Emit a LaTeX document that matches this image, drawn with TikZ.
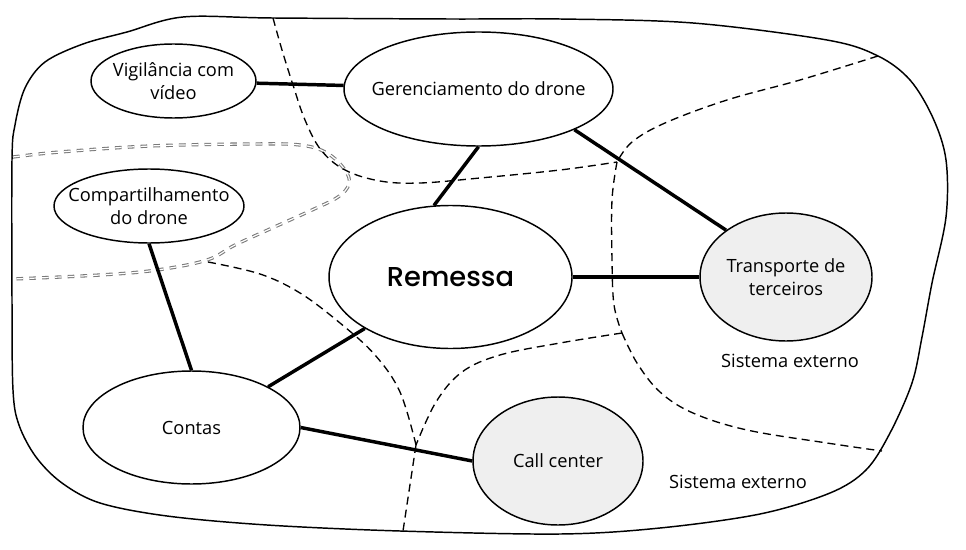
\documentclass[tikz,border=0pt]{standalone}
\usepackage{fontspec}
\setmainfont{Open Sans}
\newfontfamily\remfont{Poppins}[UprightFont=* Medium]
\usetikzlibrary{shapes.geometric}
\definecolor{extgray}{HTML}{EFEFEF}
\definecolor{dgray}{HTML}{7A7A7A}
\begin{document}
\begin{tikzpicture}[x=0.75pt,y=-0.75pt,
  sz/.style 2 args={minimum width=#1*0.75pt, minimum height=#2*0.75pt},
  ell/.style={ellipse, draw, line width=1.1pt, fill=white, inner sep=-40pt, align=center,
    font=\fontsize{13.7}{17.5}\selectfont},
  ext/.style={ell, fill=extgray},
  lbl/.style={inner sep=0pt, font=\fontsize{13.7}{17.5}\selectfont},
  conn/.style={line width=2.6pt},
  zone/.style={line width=1pt, dash pattern=on 6pt off 3.8pt},
  dzone/.style={draw=white, line width=0.9pt, dash pattern=on 5pt off 4.6pt,
    preaction={draw=dgray, line width=2.5pt, dash pattern=on 5pt off 4.6pt}},
  outline/.style={line width=1.1pt}
]
\useasboundingbox (0,0) rectangle (966,549);

% outer boundary
\draw[outline] plot[smooth cycle, tension=0.55] coordinates {
 (183,17) (273,18) (450,19) (560,19) (693,23) (827,40) (878,56) (910,80) (933,118) (946,160)
 (946,217) (932,283) (922,337) (912,383) (890,433) (866,470) (830,493) (760,514) (660,528)
 (560,534) (400,531) (267,525) (167,516) (100,503) (62,483) (36,457) (19,425) (13,390)
 (12,300) (12,160) (15,125) (25,88) (45,62) (83,44) (127,32)};

% double dashed grey zone
\draw[dzone] plot[smooth, tension=0.6] coordinates {
 (13,157) (60,152) (150,146) (250,144) (300,145) (327,153) (345,170) (349,184) (338,197)
 (312,210) (270,229) (235,245) (207,260) (157,270) (100,275) (13,279)};

% dashed zones
\coordinate (j1) at (617,162);
\coordinate (j2) at (622,333);
\coordinate (jv) at (416,445);
\coordinate (jb) at (403,531);
\draw[zone] plot[smooth, tension=0.6] coordinates {
 (273,18) (282,50) (293,85) (305,120) (321,150) (345,170) (380,181) (420,183) (480,178) (560,170) (617,162)};
\draw[zone] plot[smooth, tension=0.6] coordinates {
 (878,56) (800,80) (727,100) (665,123) (632,142) (617,162)};
\draw[zone] plot[smooth, tension=0.6] coordinates {
 (617,162) (612,200) (612,260) (614,305) (622,333)};
\draw[zone] plot[smooth, tension=0.6] coordinates {
 (622,333) (637,363) (660,392) (693,413) (747,430) (827,443) (882,451)};
\draw[zone] plot[smooth, tension=0.6] coordinates {
 (622,333) (560,343) (500,355) (462,372) (436,402) (416,445)};
\draw[zone] plot[smooth, tension=0.6] coordinates {
 (208,262) (260,274) (300,293) (340,323) (375,355) (400,392) (416,445)};
\draw[zone] (jv) -- (jb);

% nodes
\node[ell, sz={165}{74}] (V) at (173.5,81) {Vigilância com\\vídeo};
\node[ell, sz={269}{114}] (G) at (478.5,89) {Gerenciamento do drone};
\node[ell, sz={190}{74}] (C) at (149,206) {Compartilhamento\\do drone};
\node[ell, sz={243}{143}, font=\remfont\fontsize{20.5}{24}\selectfont] (R) at (450.5,277) {Remessa};
\node[ext, sz={172}{128}] (T) at (786,277) {Transporte de\\terceiros};
\node[ell, sz={217}{113}] (K) at (191.5,427.5) {Contas};
\node[ext, sz={170}{128}] (CC) at (558,461) {Call center};
\node[lbl] (s1) at (790,361) {Sistema externo};
\node[lbl] (s2) at (738,482) {Sistema externo};

% connectors
\draw[conn] (V) -- (G);
\draw[conn] (G.south) -- (R.103);
\draw[conn] (G.-23) -- (T.142);
\draw[conn] (R.east) -- (T.west);
\draw[conn] (C.south) -- (K.north);
\draw[conn] (R.211) -- (K.28);
\draw[conn] (K.east) -- (CC.west);
\end{tikzpicture}
\end{document}
